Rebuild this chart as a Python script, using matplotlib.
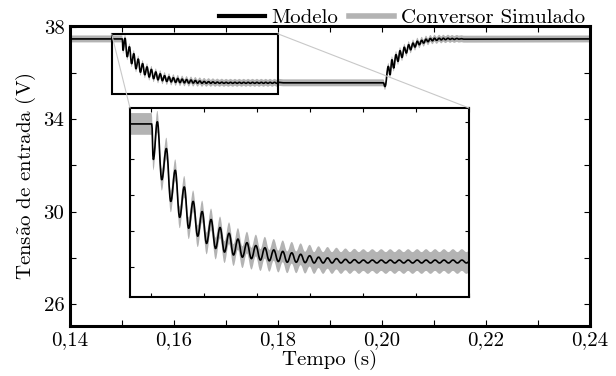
import matplotlib
matplotlib.use("Agg")
import matplotlib.pyplot as plt
from matplotlib.ticker import MultipleLocator, FuncFormatter
from matplotlib.patches import Rectangle, ConnectionPatch, PathPatch
from matplotlib.path import Path

plt.rcParams['font.family'] = 'serif'
plt.rcParams['font.serif'] = ['cmr10', 'DejaVu Serif']
plt.rcParams['mathtext.fontset'] = 'cm'
plt.rcParams['axes.formatter.use_mathtext'] = True

# ── dados ─────────────────────────────────────────────────────
# queda: nível inicial, degrau e extremos (vales/picos) da oscilação
fall_t = [0.1400, 0.15005, 0.15020,
          0.15058, 0.15100, 0.15143, 0.15185, 0.15227, 0.15269, 0.15312, 0.15354,
          0.15396, 0.15439, 0.15481, 0.15523, 0.15565, 0.15608, 0.15650, 0.15692,
          0.15735, 0.15777, 0.15819, 0.15861, 0.15904, 0.15946, 0.15988, 0.16031,
          0.16073, 0.16115, 0.16157, 0.16200, 0.16242, 0.16284, 0.16327, 0.16369,
          0.16411, 0.16453, 0.16496, 0.16538, 0.16580, 0.16623, 0.16665, 0.16707,
          0.16749, 0.16792, 0.16834, 0.16876, 0.16919, 0.16961, 0.17003, 0.17045,
          0.17088, 0.17130, 0.17172, 0.17215, 0.17257, 0.17299, 0.17341, 0.17384,
          0.17426, 0.17468, 0.17511, 0.17553, 0.17595, 0.17637, 0.17680, 0.17722,
          0.17764, 0.17807, 0.17849, 0.17891, 0.17933, 0.17976, 0.18018, 0.1810]
fall_v = [37.48, 37.48, 36.99,
          37.51, 36.71, 37.14, 36.41, 36.84, 36.19, 36.61, 36.04,
          36.41, 35.93, 36.27, 35.83, 36.16, 35.76, 36.05, 35.71,
          35.97, 35.67, 35.89, 35.64, 35.84, 35.62, 35.80, 35.60,
          35.77, 35.59, 35.74, 35.58, 35.72, 35.57, 35.70, 35.57,
          35.68, 35.565, 35.66, 35.56, 35.64, 35.56, 35.63, 35.56,
          35.62, 35.56, 35.61, 35.56, 35.605, 35.56, 35.60, 35.56,
          35.60, 35.56, 35.60, 35.56, 35.60, 35.56, 35.60, 35.56,
          35.60, 35.56, 35.60, 35.56, 35.60, 35.56, 35.60, 35.56,
          35.60, 35.56, 35.60, 35.56, 35.60, 35.56, 35.60, 35.58]

# subida: degrau em ~0,2003 s e extremos até o novo regime
rise_t = [0.20026, 0.20058, 0.20122, 0.20154, 0.20192, 0.20224, 0.20269, 0.20308,
          0.20346, 0.20385, 0.20429, 0.20468, 0.20513, 0.20551, 0.20596, 0.20635,
          0.20679, 0.20718, 0.20763, 0.20801, 0.20846, 0.20885, 0.2093, 0.2097,
          0.2101, 0.2105, 0.2110, 0.2114, 0.2118, 0.2122, 0.2127, 0.2131,
          0.2135, 0.2139, 0.2144, 0.2148, 0.2153, 0.2157, 0.2400]
rise_v = [35.58, 35.42, 36.29, 35.93, 36.58, 36.22, 36.80, 36.51,
          36.97, 36.68, 37.12, 36.87, 37.23, 37.01, 37.30, 37.13,
          37.38, 37.23, 37.42, 37.30, 37.47, 37.36, 37.50, 37.40,
          37.51, 37.42, 37.51, 37.44, 37.51, 37.45, 37.51, 37.46,
          37.50, 37.46, 37.50, 37.47, 37.49, 37.47, 37.48]

tempo = fall_t + rise_t
modelo = fall_v + rise_v
ripple_amp = 0.15          # ondulação de chaveamento do conversor simulado (V)

x_ticks = [0.14, 0.16, 0.18, 0.20, 0.22, 0.24]
y_ticks = [26, 30, 34, 38]
zoom_box = (0.148, 0.180, 35.09, 37.70)

cor_sim = '#b3b3b3'
FS = 15


def bezier_through(ts, vs):
    """Curvas de Bezier passando pelos extremos, tangente horizontal em cada um."""
    verts = [(ts[0], vs[0])]
    codes = [Path.MOVETO]
    for i in range(len(ts) - 1):
        dt = ts[i + 1] - ts[i]
        verts += [(ts[i] + 0.4 * dt, vs[i]), (ts[i + 1] - 0.4 * dt, vs[i + 1]),
                  (ts[i + 1], vs[i + 1])]
        codes += [Path.CURVE4] * 3
    return verts, codes


def line_path(ts, vs):
    verts, codes = bezier_through(ts, vs)
    return Path(verts, codes)


def band_path(ts, vs, r):
    v_up, c_up = bezier_through(ts, [v + r for v in vs])
    v_lo, c_lo = bezier_through(ts[::-1], [v - r for v in vs][::-1])
    verts = v_up + v_lo + [v_up[0]]
    codes = c_up + [Path.LINETO] + c_lo[1:] + [Path.CLOSEPOLY]
    return Path(verts, codes)


def draw_curves(a, lw):
    a.add_patch(PathPatch(band_path(tempo, modelo, ripple_amp), fc=cor_sim,
                          ec='none', lw=0, zorder=2))
    a.add_patch(PathPatch(line_path(tempo, modelo), fc='none', ec='black',
                          lw=lw, zorder=3, capstyle='butt', joinstyle='round'))


fig = plt.figure(figsize=(6.16, 3.76), dpi=100)
ax = fig.add_axes([70/616, 50/376, 520/616, 300/376])
draw_curves(ax, 1.2)

ax.set_xlim(0.14, 0.24)
ax.set_ylim(25.05, 38.04)
ax.set_xticks(x_ticks)
ax.set_yticks(y_ticks)
ax.xaxis.set_minor_locator(MultipleLocator(0.01))
ax.yaxis.set_minor_locator(MultipleLocator(2))
ax.xaxis.set_major_formatter(FuncFormatter(lambda x, p: f"{x:.2f}".replace('.', ',')))
ax.yaxis.set_major_formatter(FuncFormatter(lambda y, p: f"{y:.0f}"))
ax.tick_params(which='both', direction='in', length=4, width=0.8,
               top=True, right=True, labelsize=FS, pad=4)
for s in ax.spines.values():
    s.set_linewidth(2.2)

ax.set_xlabel('Tempo (s)', fontsize=FS, labelpad=0)
ax.set_ylabel(r'Tens$\mathrm{\tilde{a}}$o de entrada (V)', fontsize=FS, labelpad=4)

# retângulo da região ampliada
x0, x1, y0, y1 = zoom_box
ax.add_patch(Rectangle((x0, y0), x1 - x0, y1 - y0, fill=False,
                       ec='black', lw=1.5, zorder=4))

# legenda (fora do eixo, acima)
h1, = ax.plot([], [], color='black', lw=3, label='Modelo')
h2, = ax.plot([], [], color=cor_sim, lw=4, label='Conversor Simulado')
ax.legend(handles=[h1, h2], loc='lower right', bbox_to_anchor=(0.99, 0.997),
          ncol=2, frameon=False, fontsize=FS, borderpad=0, borderaxespad=0,
          handlelength=2.2, handletextpad=0.3, columnspacing=0.5)

# ── inset ─────────────────────────────────────────────────────
axins = fig.add_axes([130/616, 79/376, 339/616, 189/376])
draw_curves(axins, 1.2)
axins.set_xlim(x0, x1)
axins.set_ylim(y0, y1)
axins.xaxis.set_major_locator(MultipleLocator(0.005))
axins.yaxis.set_major_locator(MultipleLocator(0.5))
axins.tick_params(direction='in', length=3, width=0.8, top=True, right=True,
                  labelbottom=False, labelleft=False)
for s in axins.spines.values():
    s.set_linewidth(1.5)

# linhas de ligação
for xa, xb in [(x0, 0), (x1, 1)]:
    con = ConnectionPatch(xyA=(xa, y1), coordsA=ax.transData,
                          xyB=(xb, 1), coordsB=axins.transAxes,
                          color='#c8c8c8', lw=0.8, zorder=5)
    fig.add_artist(con)

fig.savefig('out.png', dpi=100)
